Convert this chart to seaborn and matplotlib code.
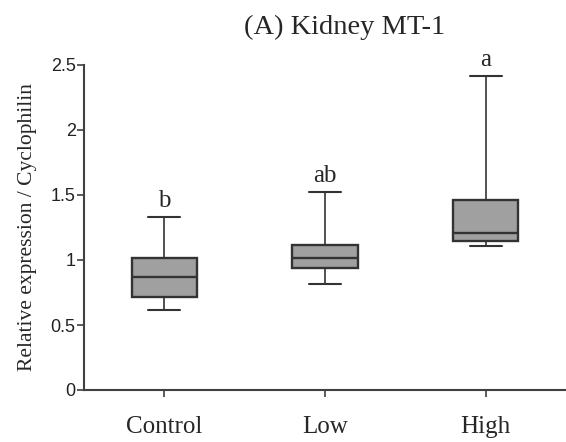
import numpy as np
import pandas as pd
import matplotlib
matplotlib.use("Agg")
import matplotlib.pyplot as plt
import seaborn as sns

# Data: min, Q1, median, Q3, max per group
groups = ["Control", "Low", "High"]
control_vals = [0.615, 0.718, 0.867, 1.018, 1.334]
low_vals = [0.815, 0.936, 1.018, 1.113, 1.523]
high_vals = [1.108, 1.149, 1.205, 1.459, 2.415]
letters = ["b", "ab", "a"]
yticks = [0, 0.5, 1, 1.5, 2, 2.5]
ytick_labels = ["0", "0.5", "1", "1.5", "2", "2.5"]

df = pd.DataFrame({
    "group": np.repeat(groups, 5),
    "value": control_vals + low_vals + high_vals,
})

sns.set_style("ticks")
serif = ["Liberation Serif", "DejaVu Serif"]
sans = ["Liberation Sans", "DejaVu Sans"]

fig = plt.figure(figsize=(5.66, 4.42), dpi=100)
ax = fig.add_axes([84 / 566, 52 / 442, 482 / 566, (390 - 65) / 442])

edge = "#333333"
sns.boxplot(
    data=df, x="group", y="value", order=groups, ax=ax,
    whis=(0, 100), width=0.405, color="#a0a0a0", saturation=1,
    linecolor=edge, linewidth=1.3,
    boxprops=dict(facecolor="#a0a0a0", edgecolor=edge, linewidth=1.7),
    medianprops=dict(color=edge, linewidth=1.7),
    whiskerprops=dict(color=edge, linewidth=1.2),
    capprops=dict(color=edge, linewidth=1.5),
    capwidths=0.2,
)

ax.set_xlim(-0.5, 2.5)
ax.set_ylim(0, 2.5)
ax.set_yticks(yticks)
ax.set_yticklabels(ytick_labels, fontfamily=sans, fontsize=13, color="#222222")
ax.set_xticks(range(len(groups)))
ax.set_xticklabels(groups, fontfamily=serif, fontsize=18)
ax.tick_params(axis="both", direction="out", length=5, width=1.2, color="#404040")
ax.tick_params(axis="y", pad=1)
ax.tick_params(axis="x", pad=14)
ax.set_xlabel("")
ax.set_ylabel("Relative expression / Cyclophilin", fontfamily=serif, fontsize=15.5, labelpad=10)

for side in ["top", "right"]:
    ax.spines[side].set_visible(False)
for side in ["left", "bottom"]:
    ax.spines[side].set_color("#404040")
    ax.spines[side].set_linewidth(1.5)

maxima = [max(control_vals), max(low_vals), max(high_vals)]
for i, (lab, m) in enumerate(zip(letters, maxima)):
    ax.annotate(lab, xy=(i, m), xytext=(0, 7), textcoords="offset points",
                ha="center", va="baseline", fontfamily=serif, fontsize=18)

fig.text(345 / 566, 1 - 27 / 442, "(A) Kidney MT-1", ha="center", va="center",
         fontfamily=serif, fontsize=20.5)

fig.savefig("out.png", dpi=100)
